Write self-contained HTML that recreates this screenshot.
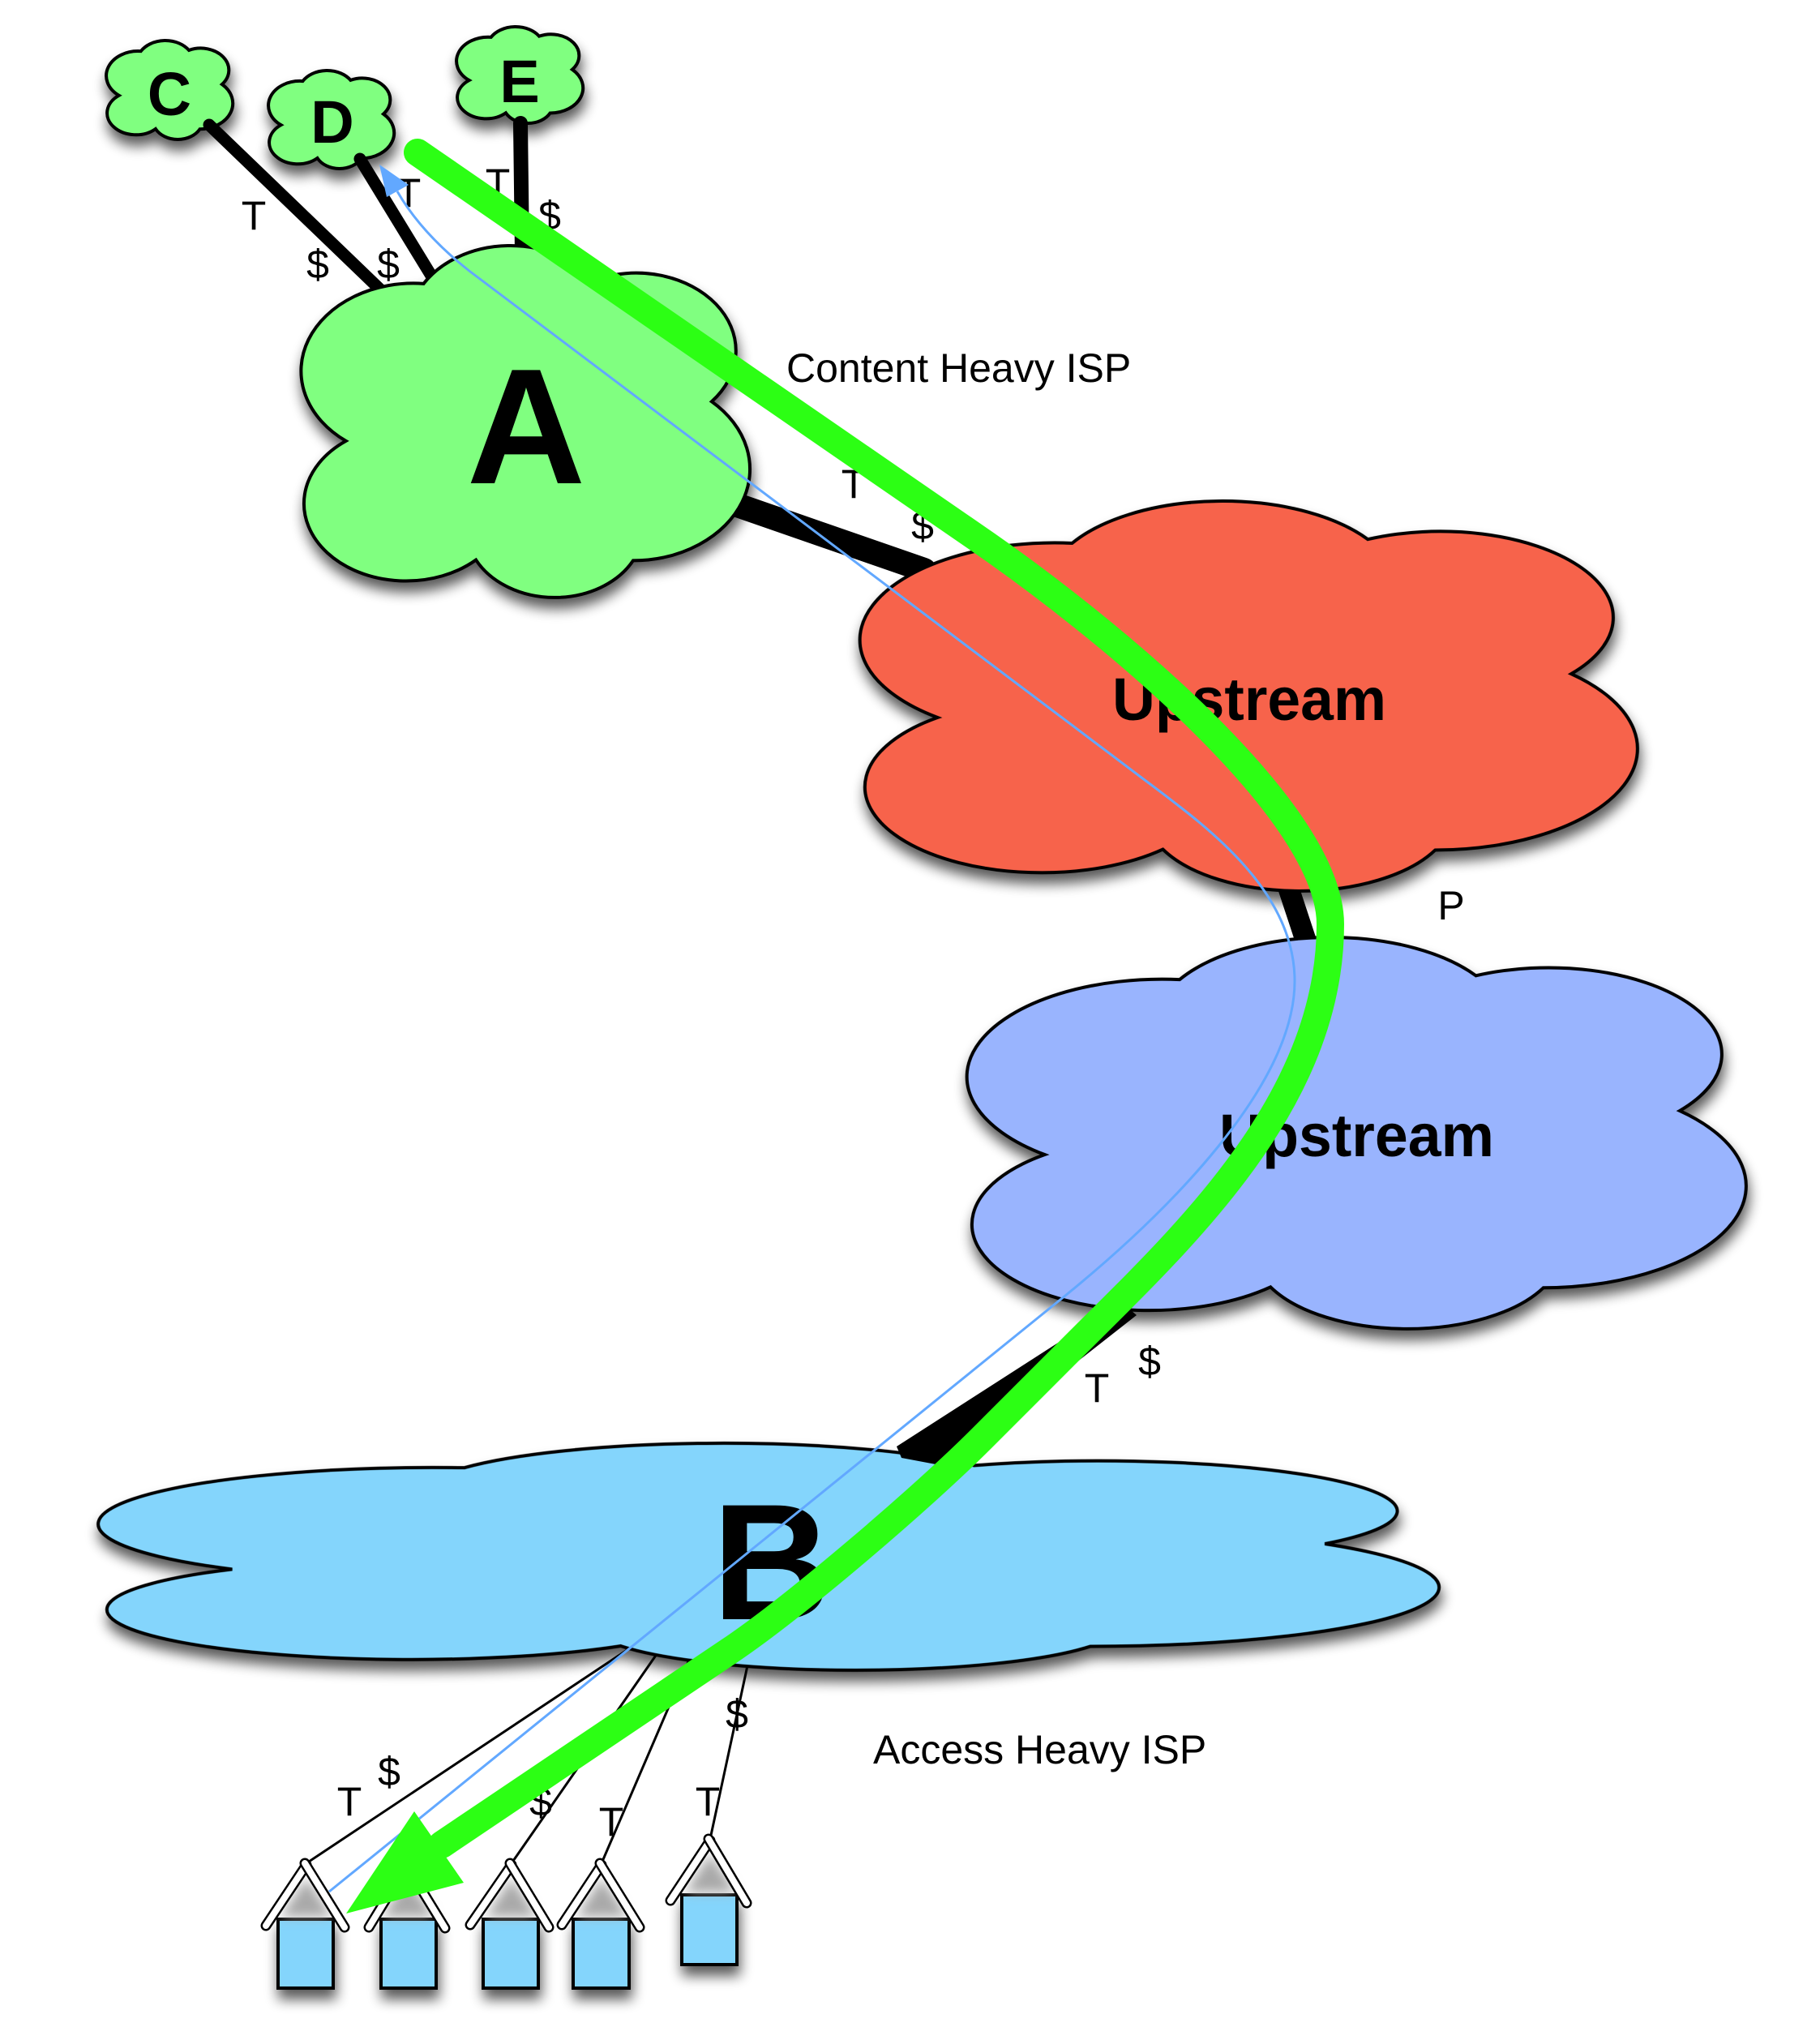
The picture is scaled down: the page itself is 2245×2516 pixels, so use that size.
<!DOCTYPE html>
<html><head><meta charset="utf-8"><style>html,body{margin:0;padding:0;background:#fff}svg{display:block}</style></head>
<body>
<svg width="2245" height="2516" viewBox="0 0 2245 2516" xmlns="http://www.w3.org/2000/svg" font-family="'Liberation Sans', Arial, sans-serif">
<defs>
<filter id="sh" filterUnits="userSpaceOnUse" x="0" y="0" width="2245" height="2516">
<feGaussianBlur in="SourceAlpha" stdDeviation="8"/>
<feOffset dx="2" dy="12"/>
<feComponentTransfer><feFuncA type="linear" slope="0.65"/></feComponentTransfer>
<feMerge><feMergeNode/><feMergeNode in="SourceGraphic"/></feMerge>
</filter>
<filter id="bl" filterUnits="userSpaceOnUse" x="0" y="0" width="2245" height="2516">
<feGaussianBlur stdDeviation="7"/>
</filter>
</defs>

<!-- links under clouds -->
<line x1="895" y1="618" x2="1140" y2="703" stroke="#000" stroke-width="30" stroke-linecap="round"/>
<line x1="1586" y1="1085" x2="1614" y2="1170" stroke="#000" stroke-width="26"/>

<!-- small clouds -->
<g filter="url(#sh)" fill="#80ff80" stroke="#000" stroke-width="4">
<path vector-effect="non-scaling-stroke" transform="translate(131,50) scale(0.157,0.122)" d="M100,555 A249,249 0 0 1 272,108 A225,225 0 0 1 650,98 A221,221 0 0 1 910,443 A260,260 0 0 1 736,895 A196,196 0 0 1 388,893 A226,220 0 1 1 100,555 Z"/>
<path vector-effect="non-scaling-stroke" transform="translate(331,87) scale(0.156,0.121)" d="M100,555 A249,249 0 0 1 272,108 A225,225 0 0 1 650,98 A221,221 0 0 1 910,443 A260,260 0 0 1 736,895 A196,196 0 0 1 388,893 A226,220 0 1 1 100,555 Z"/>
<path vector-effect="non-scaling-stroke" transform="translate(563,33) scale(0.157,0.119)" d="M100,555 A249,249 0 0 1 272,108 A225,225 0 0 1 650,98 A221,221 0 0 1 910,443 A260,260 0 0 1 736,895 A196,196 0 0 1 388,893 A226,220 0 1 1 100,555 Z"/>
</g>

<!-- C/D/E links -->
<g stroke="#000" stroke-linecap="round">
<line x1="258" y1="154" x2="472" y2="360" stroke-width="15"/>
<line x1="444" y1="196" x2="532" y2="340" stroke-width="15"/>
<line x1="642" y1="152" x2="644" y2="312" stroke-width="18"/>
</g>

<!-- house lines (under B) -->
<g stroke="#000" stroke-width="3">
<line x1="378" y1="2298" x2="790" y2="2024"/>
<line x1="631" y1="2298" x2="815" y2="2033"/>
<line x1="742" y1="2298" x2="853" y2="2040"/>
<line x1="876" y1="2268" x2="924" y2="2045"/>
</g>

<!-- big clouds -->
<g filter="url(#sh)" stroke="#000" stroke-width="4">
<path fill="#80ff80" vector-effect="non-scaling-stroke" transform="translate(371,303) scale(0.557,0.434)" d="M100,555 A249,249 0 0 1 272,108 A225,225 0 0 1 650,98 A221,221 0 0 1 910,443 A260,260 0 0 1 736,895 A196,196 0 0 1 388,893 A226,220 0 1 1 100,555 Z"/>
<path fill="#f7634c" vector-effect="non-scaling-stroke" transform="translate(1060,618) scale(0.965,0.481)" d="M100,555 A249,249 0 0 1 272,108 A225,225 0 0 1 650,98 A221,221 0 0 1 910,443 A260,260 0 0 1 736,895 A196,196 0 0 1 388,893 A226,220 0 1 1 100,555 Z"/>
<path fill="#99b4fe" vector-effect="non-scaling-stroke" transform="translate(1192,1156) scale(0.967,0.483)" d="M100,555 A249,249 0 0 1 272,108 A225,225 0 0 1 650,98 A221,221 0 0 1 910,443 A260,260 0 0 1 736,895 A196,196 0 0 1 388,893 A226,220 0 1 1 100,555 Z"/>
<path fill="#84d5fc" vector-effect="non-scaling-stroke" transform="translate(120,1780) scale(1.664,0.280)" d="M100,555 A249,249 0 0 1 272,108 A225,225 0 0 1 650,98 A221,221 0 0 1 910,443 A260,260 0 0 1 736,895 A196,196 0 0 1 388,893 A226,220 0 1 1 100,555 Z"/>
</g>

<!-- blue -> B wedge -->
<polygon points="1383,1606 1402,1622 1165,1808 1112,1798 1106,1784" fill="#000"/>

<!-- big letters -->
<g font-weight="bold" fill="#000">
<text x="209" y="142" font-size="75" text-anchor="middle">C</text>
<text x="410" y="176" font-size="74" text-anchor="middle">D</text>
<text x="641" y="126" font-size="74" text-anchor="middle">E</text>
<text x="649" y="596" font-size="203" text-anchor="middle">A</text>
<text x="1372" y="888" font-size="74" textLength="338" lengthAdjust="spacingAndGlyphs">Upstream</text>
<text x="1504" y="1426" font-size="74" textLength="339" lengthAdjust="spacingAndGlyphs">Upstream</text>
<text x="952" y="1997" font-size="204" text-anchor="middle">B</text>
</g>

<!-- houses -->
<g filter="url(#sh)">
<rect x="343" y="2367" width="68" height="85" fill="#84d5fc" stroke="#000" stroke-width="4"/>
<rect x="470" y="2367" width="68" height="85" fill="#84d5fc" stroke="#000" stroke-width="4"/>
<rect x="596" y="2367" width="68" height="85" fill="#84d5fc" stroke="#000" stroke-width="4"/>
<rect x="707" y="2367" width="69" height="85" fill="#84d5fc" stroke="#000" stroke-width="4"/>
<rect x="841" y="2337" width="68" height="86" fill="#84d5fc" stroke="#000" stroke-width="4"/>
</g>
<g filter="url(#bl)" fill="#a9a9a9">
<polygon points="378,2316 346,2364 410,2364"/>
<polygon points="502,2316 472,2364 536,2364"/>
<polygon points="631,2316 599,2364 663,2364"/>
<polygon points="742,2316 711,2364 775,2364"/>
<polygon points="876,2286 845,2334 908,2334"/>
</g>
<g stroke-linecap="round">
<g stroke="#000" stroke-width="13"><line x1="378" y1="2300" x2="328" y2="2375"/></g><g stroke="#fff" stroke-width="8"><line x1="378" y1="2300" x2="328" y2="2375"/></g>
<g stroke="#000" stroke-width="13"><line x1="376" y1="2298" x2="425" y2="2377"/></g><g stroke="#fff" stroke-width="8"><line x1="376" y1="2298" x2="425" y2="2377"/></g>
<g stroke="#000" stroke-width="13"><line x1="502" y1="2300" x2="455" y2="2377"/></g><g stroke="#fff" stroke-width="8"><line x1="502" y1="2300" x2="455" y2="2377"/></g>
<g stroke="#000" stroke-width="13"><line x1="500" y1="2298" x2="549" y2="2378"/></g><g stroke="#fff" stroke-width="8"><line x1="500" y1="2298" x2="549" y2="2378"/></g>
<g stroke="#000" stroke-width="13"><line x1="631" y1="2300" x2="580" y2="2374"/></g><g stroke="#fff" stroke-width="8"><line x1="631" y1="2300" x2="580" y2="2374"/></g>
<g stroke="#000" stroke-width="13"><line x1="629" y1="2298" x2="677" y2="2377"/></g><g stroke="#fff" stroke-width="8"><line x1="629" y1="2298" x2="677" y2="2377"/></g>
<g stroke="#000" stroke-width="13"><line x1="742" y1="2300" x2="693" y2="2374"/></g><g stroke="#fff" stroke-width="8"><line x1="742" y1="2300" x2="693" y2="2374"/></g>
<g stroke="#000" stroke-width="13"><line x1="740" y1="2298" x2="789" y2="2377"/></g><g stroke="#fff" stroke-width="8"><line x1="740" y1="2298" x2="789" y2="2377"/></g>
<g stroke="#000" stroke-width="13"><line x1="876" y1="2270" x2="827" y2="2344"/></g><g stroke="#fff" stroke-width="8"><line x1="876" y1="2270" x2="827" y2="2344"/></g>
<g stroke="#000" stroke-width="13"><line x1="874" y1="2268" x2="921" y2="2347"/></g><g stroke="#fff" stroke-width="8"><line x1="874" y1="2268" x2="921" y2="2347"/></g>
</g>

<!-- small labels -->
<g font-size="50" fill="#000" text-anchor="middle">
<text x="313" y="283">T</text>
<text x="392" y="343">$</text>
<text x="479" y="343">$</text>
<text x="504" y="255">T</text>
<text x="614" y="243">T</text>
<text x="678" y="283">$</text>
<text x="1053" y="614">T</text>
<text x="1138" y="665">$</text>
<text x="1790" y="1134">P</text>
<text x="1353" y="1729">T</text>
<text x="1418" y="1696">$</text>
<text x="431" y="2239">T</text>
<text x="480" y="2202">$</text>
<text x="667" y="2239">$</text>
<text x="754" y="2264">T</text>
<text x="873" y="2239">T</text>
<text x="909" y="2131">$</text>
</g>
<g font-size="50" fill="#000">
<text x="970" y="471">Content Heavy ISP</text>
<text x="1077" y="2175">Access Heavy ISP</text>
</g>

<!-- blue path -->
<path fill="none" stroke="#62a8ff" stroke-width="3" stroke-linejoin="round" d="M490,236 Q520,288 580,335 L1420,968 C1492,1022 1597,1100 1597,1210 C1597,1340 1438,1497 1314,1598 L406,2333"/>
<polygon points="468,203 504,228 477,243" fill="#62a8ff"/>

<!-- green arrow -->
<path fill="none" stroke="#2cff14" stroke-width="34" stroke-linejoin="round" stroke-linecap="round" d="M515,188 L1200,660 C1365,773 1641,1000 1641,1140 C1641,1360 1457,1528 1330,1655 L1210,1775 C1139,1846 983,1980 900,2036 L545,2275"/>
<polygon points="427,2360 511,2234 572,2322" fill="#2cff14"/>
</svg>
</body></html>
